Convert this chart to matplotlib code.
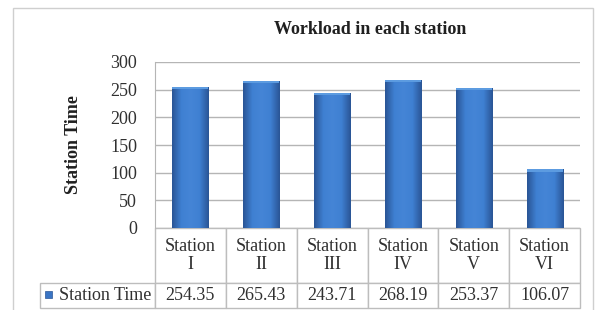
"""
Workload in each station - bar chart with data table
"""

import numpy as np
import matplotlib
matplotlib.use("Agg")
import matplotlib.pyplot as plt
from matplotlib.table import Table
from matplotlib.patches import Rectangle
from matplotlib.colors import LinearSegmentedColormap

stations = ["Station\nI", "Station\nII", "Station\nIII", "Station\nIV", "Station\nV", "Station\nVI"]
station_time = [254.35, 265.43, 243.71, 268.19, 253.37, 106.07]
series_name = "Station Time"
yticks = [0, 50, 100, 150, 200, 250, 300]

serif = ['Liberation Serif', 'DejaVu Serif']
plt.rcParams['font.family'] = serif
W, H = 597, 310
fig = plt.figure(figsize=(W / 100, H / 100), dpi=100)

# plot area in pixels: x 155..580, y 62..228
px_l, px_r, px_t, px_b = 155, 580, 62, 228
ax = fig.add_axes([px_l / W, 1 - px_b / H, (px_r - px_l) / W, (px_b - px_t) / H])

x = np.arange(len(station_time))
bw = 0.51
bars = ax.bar(x, station_time, width=bw, color="#3a75c4", edgecolor="#2b5797", linewidth=0.6, zorder=3)

# horizontal shading on each bar
cmap = LinearSegmentedColormap.from_list("bar", ["#2a5596", "#3f80d2", "#4585d6", "#3f80d2", "#2a5596"])
grad = np.linspace(0, 1, 64).reshape(1, -1)
for b in bars:
    x0, y0 = b.get_x(), b.get_y()
    im = ax.imshow(grad, cmap=cmap, aspect="auto", zorder=3.5,
                   extent=[x0, x0 + b.get_width(), y0, y0 + b.get_height()])
    im.set_clip_path(b)
    # lighter top cap
    ax.add_patch(Rectangle((x0, b.get_height() - 4), b.get_width(), 4,
                           facecolor="#5c9be0", edgecolor="none", zorder=4))

ax.set_xlim(-0.5, len(station_time) - 0.5)
ax.set_ylim(0, 300)
ax.set_yticks(yticks)
ax.set_xticks([])
ax.tick_params(axis="y", length=0, pad=13, labelsize=13, labelcolor="#303030")
ax.yaxis.grid(True, color="#b5b5b5", linewidth=1, zorder=0)
ax.set_axisbelow(True)
for s in ["top", "right", "bottom"]:
    ax.spines[s].set_visible(False)
ax.spines["left"].set_color("#b5b5b5")

# data table below the plot (pixels: x 40..580, y 228..308)
tb_l, tb_r, tb_t, tb_b = 40, 580, 228, 308
ax_w, ax_h = px_r - px_l, px_b - px_t
tb = Table(ax, bbox=[(tb_l - px_l) / ax_w, -(tb_b - px_b) / ax_h,
                     (tb_r - tb_l) / ax_w, (tb_b - tb_t) / ax_h])
colw = ax_w / len(stations)
for j, name in enumerate(stations):
    c = tb.add_cell(0, j + 1, width=colw, height=55, text=name, loc="center", edgecolor="#bdbdbd")
    c.get_text().set_linespacing(1.05)
    c = tb.add_cell(1, j + 1, width=colw, height=25, text=f"{station_time[j]:.2f}", loc="center",
                    edgecolor="#bdbdbd")
c = tb.add_cell(1, 0, width=px_l - tb_l, height=25, text=series_name, loc="right", edgecolor="#bdbdbd")
c.PAD = 0.03
tb.auto_set_font_size(False)
tb.set_fontsize(13)
for cell in tb.get_celld().values():
    cell.get_text().set_color("#303030")
    cell.get_text().set_family(serif)
ax.add_table(tb)

# legend key in the row label
fig.patches.append(Rectangle((45 / W, 1 - 298 / H), 7 / W, 7 / H, transform=fig.transFigure,
                             facecolor="#3a75c4", edgecolor="#2b5797", linewidth=0.5))

fig.text(370 / W, 1 - 30 / H, "Workload in each station", ha="center", va="center",
         fontsize=13, fontweight="bold", color="#202020")
fig.text(73 / W, 1 - 145 / H, "Station Time", ha="center", va="center", rotation=90,
         fontsize=13, fontweight="bold", color="#202020")

# chart border
fig.patches.append(Rectangle((13 / W, -0.05), 580 / W, 1 - 8 / H + 0.05, transform=fig.transFigure,
                             facecolor="none", edgecolor="#cfcfcf", linewidth=1))

fig.savefig("out.png", dpi=100)
